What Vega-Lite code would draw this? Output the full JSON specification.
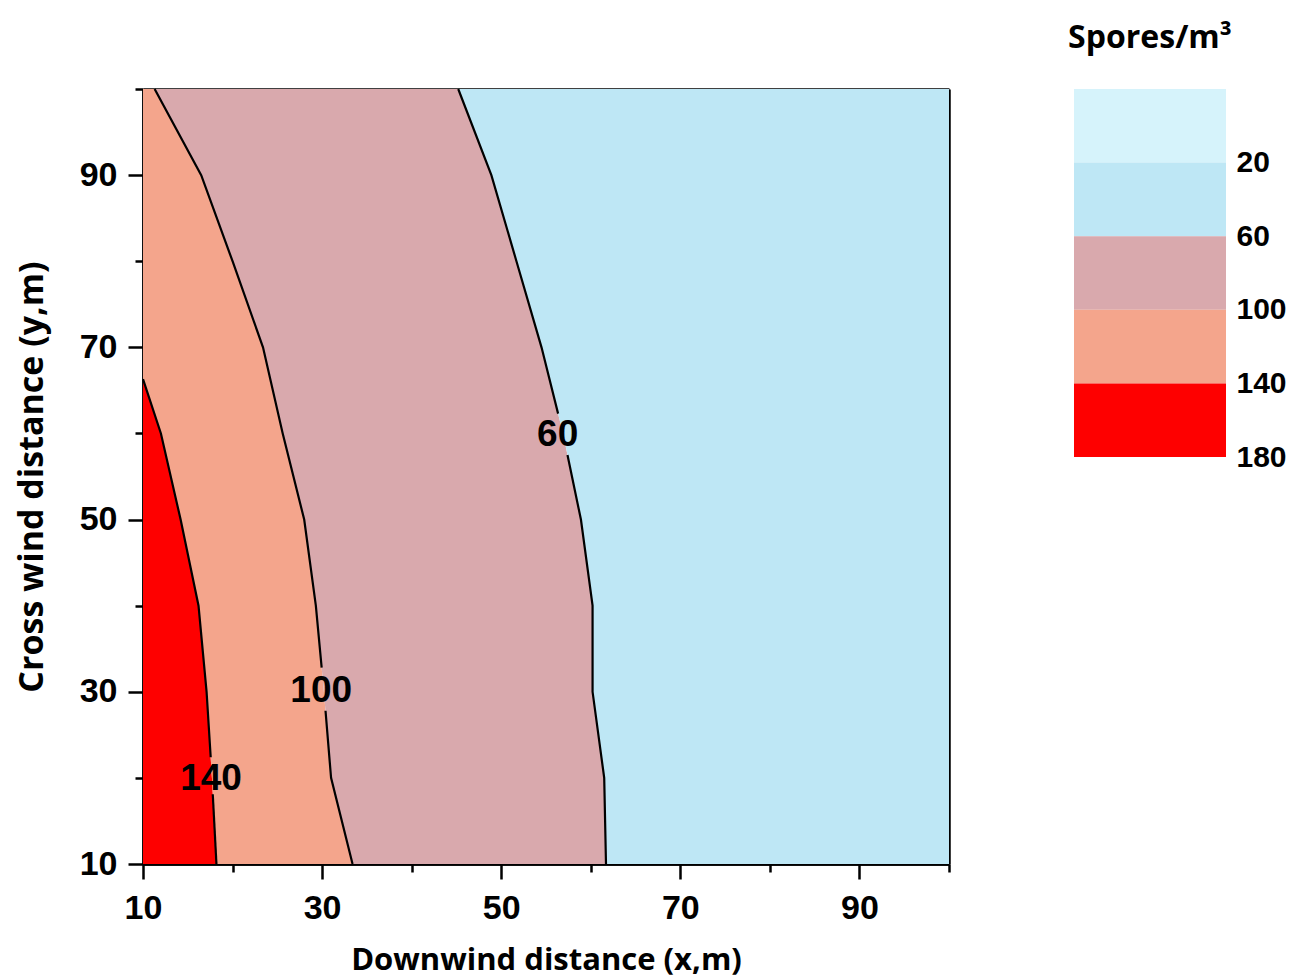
{
  "$schema": "https://vega.github.io/schema/vega-lite/v6.json",
  "background": "white",
  "padding": {"left": 15, "top": 22, "right": 5, "bottom": 5},
  "config": {
    "view": {"stroke": null},
    "axis": {
      "domainColor": "black", "domainWidth": 2.5, "tickColor": "black", "tickWidth": 2.5,
      "labelColor": "black", "titleColor": "black", "grid": false, "zindex": 1, "labelFlush": false,
      "labelFont": "Liberation Sans", "labelFontWeight": "bold", "labelFontSize": 34,
      "titleFont": "Open Sans", "titleFontWeight": "bold", "titleFontSize": 31
    }
  },
  "datasets": {
    "bands": [
      {"band": "140-180", "y": 10, "x0": 10, "x1": 18.2},
      {"band": "140-180", "y": 20, "x0": 10, "x1": 17.7},
      {"band": "140-180", "y": 30, "x0": 10, "x1": 17.1},
      {"band": "140-180", "y": 40, "x0": 10, "x1": 16.2},
      {"band": "140-180", "y": 50, "x0": 10, "x1": 14.2},
      {"band": "140-180", "y": 60, "x0": 10, "x1": 12.0},
      {"band": "140-180", "y": 66.3, "x0": 10, "x1": 10},
      {"band": "100-140", "y": 10, "x0": 18.2, "x1": 33.4},
      {"band": "100-140", "y": 20, "x0": 17.7, "x1": 31.0},
      {"band": "100-140", "y": 30, "x0": 17.1, "x1": 30.2},
      {"band": "100-140", "y": 40, "x0": 16.2, "x1": 29.3},
      {"band": "100-140", "y": 50, "x0": 14.2, "x1": 28.0},
      {"band": "100-140", "y": 60, "x0": 12.0, "x1": 25.6},
      {"band": "100-140", "y": 66.3, "x0": 10, "x1": 24.2},
      {"band": "100-140", "y": 70, "x0": 10, "x1": 23.4},
      {"band": "100-140", "y": 80, "x0": 10, "x1": 20.0},
      {"band": "100-140", "y": 90, "x0": 10, "x1": 16.5},
      {"band": "100-140", "y": 100, "x0": 10, "x1": 11.3},
      {"band": "60-100", "y": 10, "x0": 33.4, "x1": 61.7},
      {"band": "60-100", "y": 20, "x0": 31.0, "x1": 61.5},
      {"band": "60-100", "y": 30, "x0": 30.2, "x1": 60.2},
      {"band": "60-100", "y": 40, "x0": 29.3, "x1": 60.2},
      {"band": "60-100", "y": 50, "x0": 28.0, "x1": 58.9},
      {"band": "60-100", "y": 60, "x0": 25.6, "x1": 56.9},
      {"band": "60-100", "y": 70, "x0": 23.4, "x1": 54.5},
      {"band": "60-100", "y": 80, "x0": 20.0, "x1": 51.7},
      {"band": "60-100", "y": 90, "x0": 16.5, "x1": 48.9},
      {"band": "60-100", "y": 100, "x0": 11.3, "x1": 45.2},
      {"band": "20-60", "y": 10, "x0": 61.7, "x1": 100},
      {"band": "20-60", "y": 20, "x0": 61.5, "x1": 100},
      {"band": "20-60", "y": 30, "x0": 60.2, "x1": 100},
      {"band": "20-60", "y": 40, "x0": 60.2, "x1": 100},
      {"band": "20-60", "y": 50, "x0": 58.9, "x1": 100},
      {"band": "20-60", "y": 60, "x0": 56.9, "x1": 100},
      {"band": "20-60", "y": 70, "x0": 54.5, "x1": 100},
      {"band": "20-60", "y": 80, "x0": 51.7, "x1": 100},
      {"band": "20-60", "y": 90, "x0": 48.9, "x1": 100},
      {"band": "20-60", "y": 100, "x0": 45.2, "x1": 100}
    ],
    "contours": [
      {"seg": "60a", "y": 100, "x": 45.2},
      {"seg": "60a", "y": 90, "x": 48.9},
      {"seg": "60a", "y": 80, "x": 51.7},
      {"seg": "60a", "y": 70, "x": 54.5},
      {"seg": "60a", "y": 62.3, "x": 56.35},
      {"seg": "60b", "y": 57.5, "x": 57.4},
      {"seg": "60b", "y": 50, "x": 58.9},
      {"seg": "60b", "y": 40, "x": 60.2},
      {"seg": "60b", "y": 30, "x": 60.2},
      {"seg": "60b", "y": 20, "x": 61.5},
      {"seg": "60b", "y": 10, "x": 61.7},
      {"seg": "100a", "y": 100, "x": 11.3},
      {"seg": "100a", "y": 90, "x": 16.5},
      {"seg": "100a", "y": 80, "x": 20.0},
      {"seg": "100a", "y": 70, "x": 23.4},
      {"seg": "100a", "y": 60, "x": 25.6},
      {"seg": "100a", "y": 50, "x": 28.0},
      {"seg": "100a", "y": 40, "x": 29.3},
      {"seg": "100a", "y": 32.8, "x": 29.95},
      {"seg": "100b", "y": 27.8, "x": 30.38},
      {"seg": "100b", "y": 20, "x": 31.0},
      {"seg": "100b", "y": 10, "x": 33.4},
      {"seg": "140a", "y": 66.3, "x": 10},
      {"seg": "140a", "y": 60, "x": 12.0},
      {"seg": "140a", "y": 50, "x": 14.2},
      {"seg": "140a", "y": 40, "x": 16.2},
      {"seg": "140a", "y": 30, "x": 17.1},
      {"seg": "140a", "y": 22.4, "x": 17.56},
      {"seg": "140b", "y": 18.1, "x": 17.79},
      {"seg": "140b", "y": 10, "x": 18.2}
    ],
    "labels": [
      {"text": "60", "x": 56.3, "y": 59.8},
      {"text": "100", "x": 29.9, "y": 30.1},
      {"text": "140", "x": 17.6, "y": 19.9}
    ],
    "legend": [
      {"band": "0-20", "lo": -20, "hi": 20},
      {"band": "20-60", "lo": 20, "hi": 60},
      {"band": "60-100", "lo": 60, "hi": 100},
      {"band": "100-140", "lo": 100, "hi": 140},
      {"band": "140-180", "lo": 140, "hi": 180}
    ]
  },
  "spacing": 125,
  "bounds": "flush",
  "hconcat": [
    {
      "width": 806,
      "height": 775,
      "resolve": {"axis": {"x": "independent", "y": "independent"}},
      "layer": [
        {
          "data": {"name": "bands"},
          "mark": {"type": "area", "orient": "horizontal", "interpolate": "linear"},
          "encoding": {
            "y": {"field": "y", "type": "quantitative",
              "scale": {"domain": [10, 100], "nice": false, "zero": false},
              "axis": {"orient": "left", "values": [10, 30, 50, 70, 90], "tickSize": 15, "labelPadding": 11, "title": "Cross wind distance (y,m)", "titleFontSize": 34, "titlePadding": 30}},
            "x": {"field": "x0", "type": "quantitative",
              "scale": {"domain": [10, 100], "nice": false, "zero": false},
              "axis": {"orient": "bottom", "values": [10, 30, 50, 70, 90], "tickSize": 15, "labelPadding": 12, "title": "Downwind distance (x,m)", "titlePadding": 20}},
            "x2": {"field": "x1"},
            "color": {"field": "band", "type": "nominal",
              "scale": {"domain": ["0-20", "20-60", "60-100", "100-140", "140-180"], "range": ["#d6f3fb", "#bee7f5", "#d9a9ad", "#f4a58c", "#fe0000"]},
              "legend": null}
          }
        },
        {
          "data": {"name": "contours"},
          "mark": {"type": "line", "color": "black", "strokeWidth": 2.2},
          "encoding": {
            "x": {"field": "x", "type": "quantitative",
              "axis": {"orient": "bottom", "values": [20, 40, 60, 80, 100], "tickSize": 8, "labels": false, "title": null}},
            "y": {"field": "y", "type": "quantitative",
              "axis": {"orient": "left", "values": [20, 40, 60, 80, 100], "tickSize": 8, "labels": false, "title": null}},
            "detail": {"field": "seg", "type": "nominal"},
            "order": {"field": "y", "type": "quantitative"}
          }
        },
        {
          "data": {"name": "labels"},
          "mark": {"type": "text", "font": "Liberation Sans", "fontWeight": "bold", "fontSize": 37, "color": "black", "align": "center", "baseline": "middle"},
          "encoding": {
            "x": {"field": "x", "type": "quantitative",
              "axis": {"orient": "top", "ticks": false, "labels": false, "title": null}},
            "y": {"field": "y", "type": "quantitative",
              "axis": {"orient": "right", "ticks": false, "labels": false, "title": null}},
            "text": {"field": "text", "type": "nominal"}
          }
        }
      ]
    },
    {
      "width": 152,
      "height": 368,
      "data": {"name": "legend"},
      "title": {"text": "Spores/m³", "font": "Open Sans", "fontWeight": "bold", "fontSize": 32, "anchor": "middle", "offset": 34, "color": "black"},
      "mark": {"type": "rect"},
      "encoding": {
        "y": {"field": "lo", "type": "quantitative",
          "scale": {"domain": [-20, 180], "reverse": true, "nice": false, "zero": false},
          "axis": {"orient": "right", "values": [20, 60, 100, 140, 180], "ticks": false, "domain": false, "labelPadding": 10, "labelFontSize": 30, "title": null}},
        "y2": {"field": "hi"},
        "x": {"datum": 0, "type": "quantitative", "scale": {"domain": [0, 1]}, "axis": null},
        "x2": {"datum": 1},
        "color": {"field": "band", "type": "nominal",
          "scale": {"domain": ["0-20", "20-60", "60-100", "100-140", "140-180"], "range": ["#d6f3fb", "#bee7f5", "#d9a9ad", "#f4a58c", "#fe0000"]},
          "legend": null}
      }
    }
  ]
}
